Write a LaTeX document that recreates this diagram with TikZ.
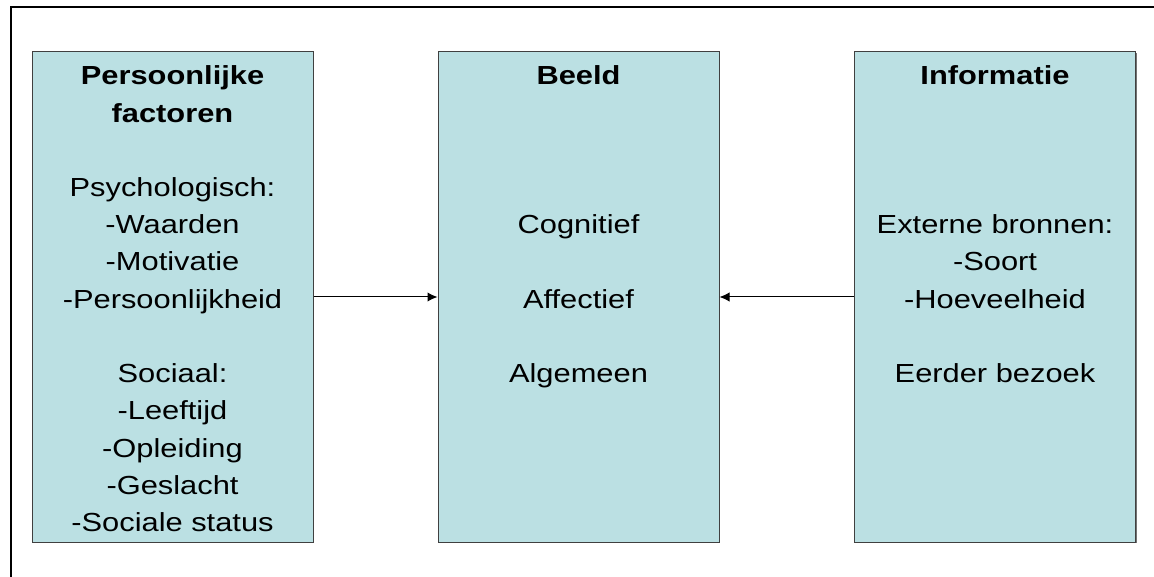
\documentclass[tikz,border=0pt]{standalone}
\usepackage{fontspec}
\setmainfont{Liberation Sans}[FakeStretch=1.18]
\usetikzlibrary{arrows.meta,shadows}
\definecolor{vakblauw}{RGB}{187,224,227}
\tikzset{
    vak/.style={rectangle, draw=black!75, line width=0.75pt, fill=vakblauw,
        minimum width=210.75pt, minimum height=367.5pt, inner sep=0pt,
        drop shadow={shadow xshift=1pt, shadow yshift=-1pt, fill=black!55, opacity=1}},
    regel/.style={anchor=base, inner sep=0pt, font=\fontsize{19.6}{23}\selectfont},
    kop/.style={regel, font=\fontsize{19.6}{23}\selectfont\bfseries},
    pijl/.style={-{Latex[length=7.5pt,width=7pt]}, line width=0.75pt}
}
\begin{document}
\begin{tikzpicture}[x=0.75pt, y=-0.75pt]
        \useasboundingbox (0,0) rectangle (1154,577);
        \draw[line width=1.4pt] (11,577) -- (11,7) -- (1154,7);

        \node[vak] (factoren) at (172.5, 297) {};
        \node[vak] (beeld) at (578.5, 297) {};
        \node[vak] (informatie) at (995, 297) {};

        \foreach \txt/\row in {Persoonlijke/1, factoren/2}
            {
                \node[kop] (factoren-\row) at (172.5, {85+37.2*(\row-1)}) {\txt};
            }
        \foreach \txt/\row in {Psychologisch:/4, -Waarden/5, -Motivatie/6, -Persoonlijkheid/7,
                               Sociaal:/9, -Leeftijd/10, -Opleiding/11, -Geslacht/12, -Sociale status/13}
            {
                \node[regel] (factoren-\row) at (172.5, {85+37.2*(\row-1)}) {\txt};
            }

        \node[kop] (beeld-1) at (578.5, 85) {Beeld};
        \foreach \txt/\row in {Cognitief/5, Affectief/7, Algemeen/9}
            {
                \node[regel] (beeld-\row) at (578.5, {85+37.2*(\row-1)}) {\txt};
            }

        \node[kop] (informatie-1) at (995, 85) {Informatie};
        \foreach \txt/\row in {Externe bronnen:/5, -Soort/6, -Hoeveelheid/7, Eerder bezoek/9}
            {
                \node[regel] (informatie-\row) at (995, {85+37.2*(\row-1)}) {\txt};
            }

        \draw[pijl] (factoren) -- (beeld);
        \draw[pijl] (informatie) -- (beeld);
    \end{tikzpicture}
\end{document}
